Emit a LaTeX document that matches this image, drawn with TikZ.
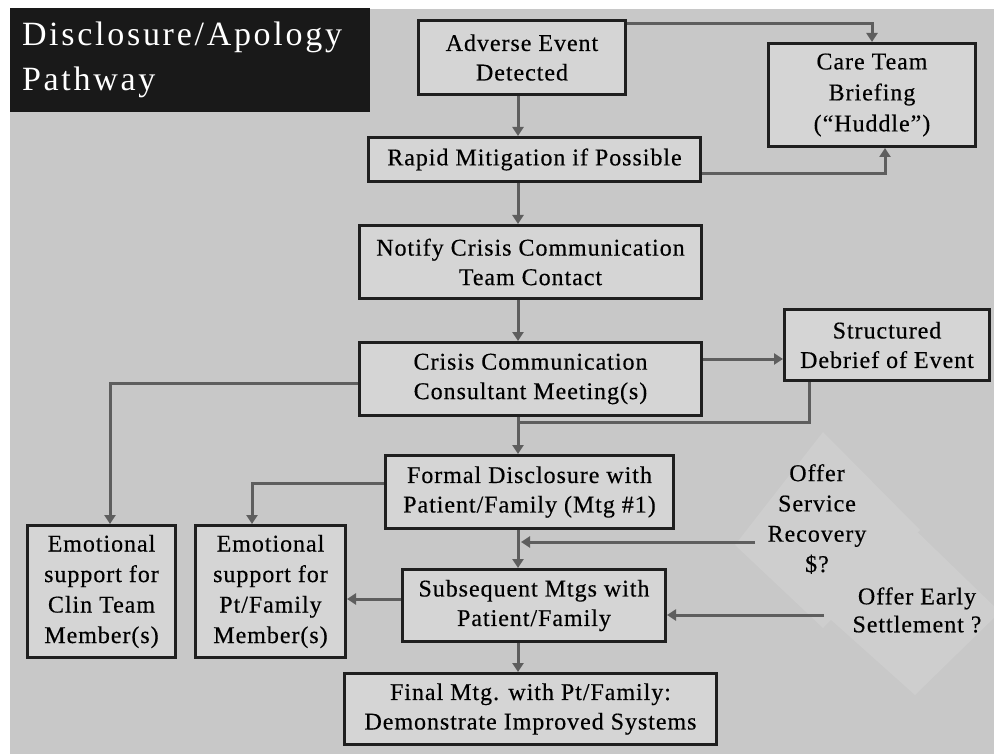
\documentclass[tikz,border=0pt]{standalone}
\usepackage{fontspec}
\setmainfont{Liberation Serif}
\newfontfamily\boxfont{Liberation Serif}[LetterSpace=4,FakeBold=0.4]
\newfontfamily\ttlfont{Liberation Serif}[LetterSpace=8]
\usetikzlibrary{arrows.meta,calc}
\definecolor{bggray}{HTML}{C8C8C8}
\definecolor{boxgray}{HTML}{D5D5D5}
\definecolor{linegray}{HTML}{5E5E5E}
\definecolor{diagray}{HTML}{CECECE}
\begin{document}
\begin{tikzpicture}[x=1pt,y=-1pt,
  fbox/.style={draw=black!88, line width=3pt, fill=boxgray, align=center, inner sep=0pt,
    font=\boxfont\fontsize{24}{29.5}\selectfont},
  plain/.style={align=center, inner sep=0pt, font=\boxfont\fontsize{24}{29.5}\selectfont},
  conn/.style={draw=linegray, line width=3pt},
  arr/.style={conn, -{Triangle[length=9pt,width=11pt]}}]
\useasboundingbox (0,0) rectangle (994,754);
\fill[white] (0,0) rectangle (994,754);
\fill[bggray] (10,9) rectangle (994,754);
% faint diamonds
\fill[diagray] (823,432) -- (920,530) -- (823,628) -- (735,545) -- cycle;
\fill[diagray] (905,520) -- (1000,612) -- (915,695) -- (820,610) -- cycle;

% title
\node[fill=black!90, minimum width=360pt, minimum height=104pt, text width=336pt,
  align=left, inner sep=0pt, text=white, font=\ttlfont\fontsize{34}{45}\selectfont]
  (title) at (190,60) {Disclosure/Apology\\Pathway};

% boxes
\node[fbox, minimum width=207pt, minimum height=74pt] (adv) at (522,57.5) {Adverse Event\\Detected};
\node[fbox, minimum width=332pt, minimum height=44pt] (rap) at (534.5,159.5) {Rapid Mitigation if Possible};
\node[fbox, minimum width=207pt, minimum height=103pt, font=\boxfont\fontsize{24}{31}\selectfont] (care) at (872,95) {Care Team\\Briefing\\(“Huddle”)};
\node[fbox, minimum width=342pt, minimum height=73pt] (not) at (530.5,262) {Notify Crisis Communication\\Team Contact};
\node[fbox, minimum width=342pt, minimum height=73pt] (cri) at (530.5,379) {Crisis Communication\\Consultant Meeting(s)};
\node[fbox, minimum width=205pt, minimum height=71pt] (deb) at (887,345) {Structured\\Debrief of Event};
\node[fbox, minimum width=288pt, minimum height=73pt] (frm) at (529.5,492) {Formal Disclosure with\\Patient/Family (Mtg \#1)};
\node[fbox, minimum width=263pt, minimum height=72pt] (sub) at (534,605.5) {Subsequent Mtgs with\\Patient/Family};
\node[fbox, minimum width=372pt, minimum height=71pt] (fin) at (530.5,709) {Final Mtg. with Pt/Family:\\Demonstrate Improved Systems};
\node[fbox, minimum width=148pt, minimum height=132pt, font=\boxfont\fontsize{24}{30.5}\selectfont] (clin) at (101.5,591.5) {Emotional\\support for\\Clin Team\\Member(s)};
\node[fbox, minimum width=150pt, minimum height=132pt, font=\boxfont\fontsize{24}{30.5}\selectfont] (pt) at (270.5,591.5) {Emotional\\support for\\Pt/Family\\Member(s)};

% free texts
\node[plain, font=\boxfont\fontsize{24}{30.3}\selectfont] (svc) at (817,519) {Offer\\Service\\Recovery\\\$?};
\node[plain, font=\boxfont\fontsize{24}{28}\selectfont] (early) at (917,610) {Offer Early\\Settlement ?};

% connectors
\coordinate (sp) at (518,0);
\draw[arr] (adv.south -| sp) -- (rap.north -| sp);
\draw[arr] ($(adv.north east)+(0,4.5)$) -| (care.north);
\draw[arr] ($(rap.east)+(0,14.5)$) -| ($(care.south)+(13,0)$);
\draw[arr] (rap.south -| sp) -- (not.north -| sp);
\draw[arr] (not.south -| sp) -- (cri.north -| sp);
\draw[arr] (cri.south -| sp) -- (frm.north -| sp);
\coordinate (c1) at ($(cri.east)+(0,-20)$);
\draw[arr] (c1) -- (c1 -| deb.west);
\coordinate (m1) at (518,422);
\draw[conn] ($(deb.south)+(-78,0)$) |- (m1);
\coordinate (c2) at ($(cri.west)+(0,4)$);
\draw[arr] (c2) -| ($(clin.north)+(8.5,0)$);
\coordinate (c3) at ($(frm.west)+(0,-9)$);
\draw[arr] (c3) -| ($(pt.north)+(-18.5,0)$);
\coordinate (c4) at ($(sub.west)+(0,-6.5)$);
\draw[arr] (c4) -- (c4 -| pt.east);
\draw[arr] (frm.south -| sp) -- (sub.north -| sp);
\draw[arr] (sub.south -| sp) -- (fin.north -| sp);
\coordinate (s1) at (755,542);
\coordinate (s2) at (521,542);
\draw[arr] (s1) -- (s2);
\coordinate (e1) at (824,615);
\draw[arr] (e1) -- (e1 -| sub.east);
\end{tikzpicture}
\end{document}
